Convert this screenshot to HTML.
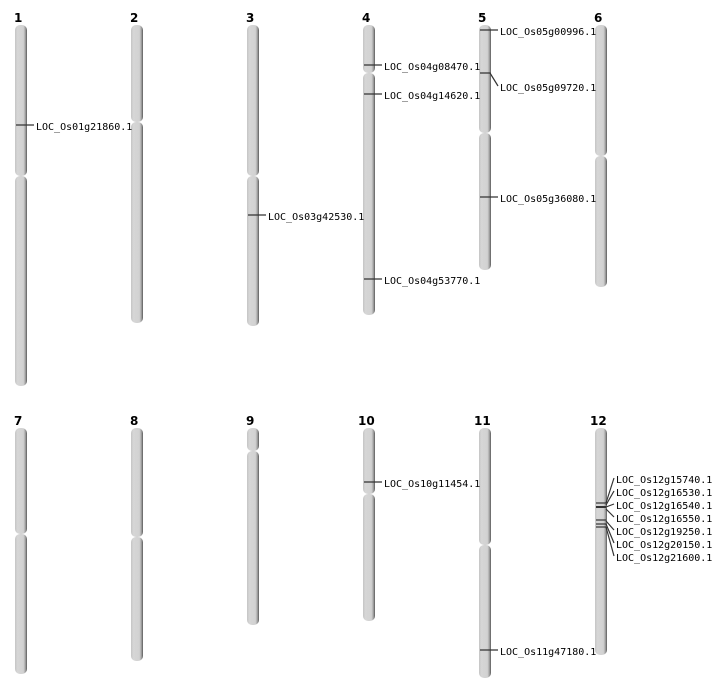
<!DOCTYPE html>
<html><head><meta charset="utf-8"><style>
html,body{margin:0;padding:0;background:#fff;}
svg{display:block}
text{font-family:"DejaVu Sans Mono","Liberation Mono",monospace;font-size:10px;fill:#000}
.n{font-family:"DejaVu Sans","Liberation Sans",sans-serif;font-weight:bold;font-size:12px}
</style></head><body>
<svg width="712" height="700" viewBox="0 0 712 700" xmlns="http://www.w3.org/2000/svg">
<defs>
<linearGradient id="g" x1="0" x2="1" y1="0" y2="0">
<stop offset="0" stop-color="#c4c4c4"/><stop offset="0.2" stop-color="#d6d6d6"/><stop offset="0.7" stop-color="#d2d2d2"/><stop offset="0.85" stop-color="#a8a8a8"/><stop offset="1" stop-color="#5a5a5a"/>
</linearGradient>
</defs>
<g fill="url(#g)">
<rect x="15" y="25" width="12" height="151" rx="5"/><rect x="15" y="176" width="12" height="210" rx="5"/>
<rect x="131" y="25" width="12" height="97" rx="5"/><rect x="131" y="122" width="12" height="201" rx="5"/>
<rect x="247" y="25" width="12" height="151" rx="5"/><rect x="247" y="176" width="12" height="150" rx="5"/>
<rect x="363" y="25" width="12" height="48" rx="5"/><rect x="363" y="73" width="12" height="242" rx="5"/>
<rect x="479" y="25" width="12" height="108" rx="5"/><rect x="479" y="133" width="12" height="137" rx="5"/>
<rect x="595" y="25" width="12" height="131" rx="5"/><rect x="595" y="156" width="12" height="131" rx="5"/>
<rect x="15" y="428" width="12" height="106" rx="5"/><rect x="15" y="534" width="12" height="140" rx="5"/>
<rect x="131" y="428" width="12" height="109" rx="5"/><rect x="131" y="537" width="12" height="124" rx="5"/>
<rect x="247" y="428" width="12" height="23" rx="5"/><rect x="247" y="451" width="12" height="174" rx="5"/>
<rect x="363" y="428" width="12" height="66" rx="5"/><rect x="363" y="494" width="12" height="127" rx="5"/>
<rect x="479" y="428" width="12" height="117" rx="5"/><rect x="479" y="545" width="12" height="133" rx="5"/>
<rect x="595" y="428" width="12" height="227" rx="5"/>
</g>
<g class="n">
<text class="n" x="14" y="22">1</text><text class="n" x="130" y="22">2</text><text class="n" x="246" y="22">3</text>
<text class="n" x="362" y="22">4</text><text class="n" x="478" y="22">5</text><text class="n" x="594" y="22">6</text>
<text class="n" x="14" y="425">7</text><text class="n" x="130" y="425">8</text><text class="n" x="246" y="425">9</text>
<text class="n" x="358" y="425">10</text><text class="n" x="474" y="425">11</text><text class="n" x="590" y="425">12</text>
</g>
<g stroke="#333" stroke-width="1.2" fill="none">
<line x1="16" y1="125" x2="34" y2="125"/>
<line x1="248" y1="215" x2="266" y2="215"/>
<line x1="364" y1="65" x2="382" y2="65"/>
<line x1="364" y1="94" x2="382" y2="94"/>
<line x1="364" y1="279" x2="382" y2="279"/>
<line x1="480" y1="30" x2="498" y2="30"/>
<polyline points="480,73 490,73 498,86"/>
<line x1="480" y1="197" x2="498" y2="197"/>
<line x1="364" y1="482" x2="382" y2="482"/>
<line x1="480" y1="650" x2="498" y2="650"/>
<line x1="596" y1="503" x2="606" y2="503"/>
<line x1="596" y1="507" x2="606" y2="507" stroke-width="2"/>
<line x1="596" y1="520" x2="606" y2="520"/>
<line x1="596" y1="524" x2="606" y2="524"/>
<line x1="596" y1="527" x2="606" y2="527"/>
<line x1="606" y1="503" x2="614" y2="478"/>
<line x1="606" y1="505" x2="614" y2="491"/>
<line x1="606" y1="507" x2="614" y2="504"/>
<line x1="606" y1="509" x2="614" y2="517"/>
<line x1="606" y1="521" x2="614" y2="530"/>
<line x1="606" y1="524" x2="614" y2="543"/>
<line x1="606" y1="527" x2="614" y2="556"/>
</g>
<text x="36" y="130">LOC_Os01g21860.1</text>
<text x="268" y="220">LOC_Os03g42530.1</text>
<text x="384" y="70">LOC_Os04g08470.1</text>
<text x="384" y="99">LOC_Os04g14620.1</text>
<text x="384" y="284">LOC_Os04g53770.1</text>
<text x="500" y="35">LOC_Os05g00996.1</text>
<text x="500" y="91">LOC_Os05g09720.1</text>
<text x="500" y="202">LOC_Os05g36080.1</text>
<text x="384" y="487">LOC_Os10g11454.1</text>
<text x="500" y="655">LOC_Os11g47180.1</text>
<text x="616" y="483">LOC_Os12g15740.1</text>
<text x="616" y="496">LOC_Os12g16530.1</text>
<text x="616" y="509">LOC_Os12g16540.1</text>
<text x="616" y="522">LOC_Os12g16550.1</text>
<text x="616" y="535">LOC_Os12g19250.1</text>
<text x="616" y="548">LOC_Os12g20150.1</text>
<text x="616" y="561">LOC_Os12g21600.1</text>
</svg>
</body></html>
